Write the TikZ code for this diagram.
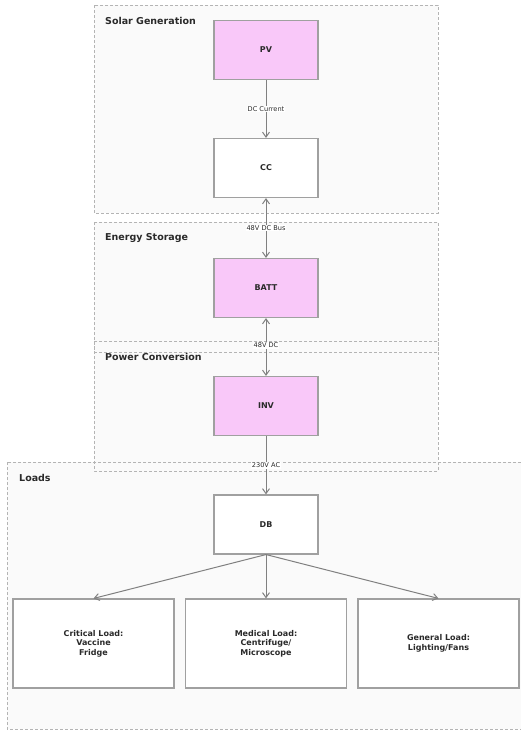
\documentclass[tikz,border=0pt]{standalone}
\usepackage{fontspec}
\setmainfont{DejaVu Sans}
\usetikzlibrary{arrows.meta}
\definecolor{clfill}{HTML}{FAFAFA}
\definecolor{clborder}{HTML}{B4B4B4}
\definecolor{boxborder}{HTML}{A0A0A0}
\definecolor{pinkfill}{HTML}{F9C8F9}
\definecolor{arrowcol}{HTML}{808080}
\definecolor{txt}{HTML}{2A2A2A}
\tikzset{
  cluster/.style={draw=clborder, dashed, dash pattern=on 3pt off 2pt, line width=0.6pt},
  cltitle/.style={anchor=west, font=\fontsize{9.5}{11}\selectfont\bfseries, text=txt, inner sep=0pt},
  box/.style={draw=boxborder, line width=1.1pt, fill=white, minimum width=104pt, minimum height=59pt, inner sep=0pt, font=\fontsize{8}{9.6}\selectfont\bfseries, text=txt, align=center},
  pinkbox/.style={box, fill=pinkfill},
  loadbox/.style={box, minimum width=161pt, minimum height=89pt},
  conn/.style={draw=arrowcol, line width=1pt, -{Straight Barb[length=5pt,width=7pt]}},
  biconn/.style={draw=arrowcol, line width=1pt, {Straight Barb[length=5pt,width=7pt]}-{Straight Barb[length=5pt,width=7pt]}},
  elabel/.style={fill=white, inner sep=1pt, font=\fontsize{6.6}{7.5}\selectfont, text=txt},
}
\begin{document}
\begin{tikzpicture}[x=1pt,y=-1pt]
\useasboundingbox (0,0) rectangle (520,731);
% cluster fills
\fill[clfill] (94,5) rectangle (438,213);
\fill[clfill] (94,222) rectangle (438,352);
\fill[clfill] (94,341) rectangle (438,471);
\fill[clfill] (7,462) rectangle (522,729);
% cluster borders
\draw[cluster] (94,5) rectangle (438,213);
\draw[cluster] (94,222) rectangle (438,352);
\draw[cluster] (94,341) rectangle (438,471);
\draw[cluster] (7,462) rectangle (522,729);
% titles
\node[cltitle] (tsolar) at (105,21) {Solar Generation};
\node[cltitle] (tstor) at (105,238) {Energy Storage};
\node[cltitle] (tconv) at (105,357) {Power Conversion};
\node[cltitle] (tload) at (19,478) {Loads};
% nodes
\node[pinkbox] (pv) at (266,50) {PV};
\node[box] (cc) at (266,168) {CC};
\node[pinkbox] (batt) at (266,288) {BATT};
\node[pinkbox] (inv) at (266,406) {INV};
\node[box] (db) at (266,524.5) {DB};
\node[loadbox] (crit) at (93.5,643.5) {Critical Load:\\Vaccine\\Fridge};
\node[loadbox] (med) at (266,643.5) {Medical Load:\\Centrifuge/\\Microscope};
\node[loadbox] (gen) at (438.5,643.5) {General Load:\\Lighting/Fans};
% connectors
\draw[conn] (pv) -- node[elabel] (l1) {DC Current} (cc);
\draw[biconn] (cc) -- node[elabel, pos=0.5] (l2) {48V DC Bus} (batt);
\draw[biconn] (batt) -- node[elabel, pos=0.47] (l3) {48V DC} (inv);
\draw[conn] (inv) -- node[elabel, pos=0.5] (l4) {230V AC} (db);
\draw[conn] (db.south) -- (crit.north);
\draw[conn] (db.south) -- (med.north);
\draw[conn] (db.south) -- (gen.north);
\end{tikzpicture}
\end{document}
